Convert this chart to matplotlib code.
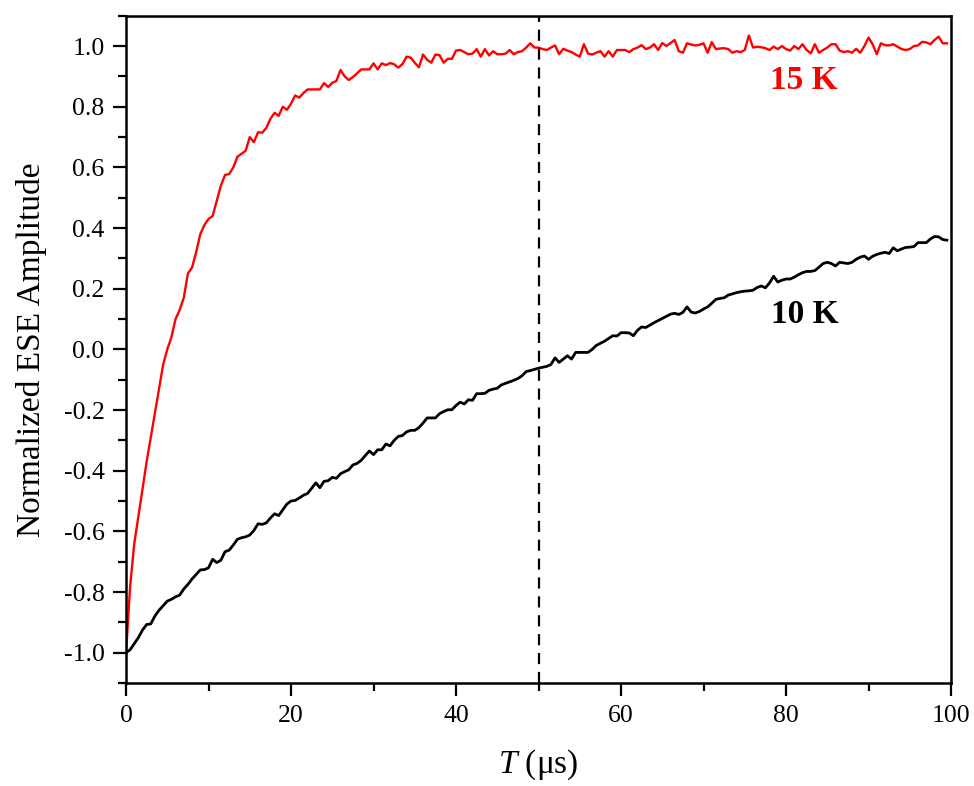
import numpy as np
import matplotlib
matplotlib.use('Agg')
import matplotlib.pyplot as plt
from matplotlib.ticker import MultipleLocator

plt.rcParams['font.family'] = 'Liberation Serif'
plt.rcParams['mathtext.fontset'] = 'custom'
plt.rcParams['mathtext.rm'] = 'Liberation Serif'
plt.rcParams['mathtext.it'] = 'Liberation Serif:italic'

# time axis, 0.5 us step
t = np.arange(0, 100, 0.5)

# 15 K echo amplitude
amp_15k = [
    -1.00, -0.78, -0.64, -0.55, -0.46, -0.37, -0.29, -0.21, -0.13, -0.05,
    0.00, 0.04, 0.10, 0.13, 0.17, 0.25, 0.27, 0.32, 0.38, 0.41,
    0.43, 0.44, 0.49, 0.54, 0.575, 0.578, 0.60, 0.635, 0.645, 0.655,
    0.70, 0.683, 0.716, 0.714, 0.73, 0.76, 0.78, 0.77, 0.80, 0.79,
    0.81, 0.837, 0.83, 0.845, 0.857, 0.857, 0.857, 0.857, 0.878, 0.865,
    0.879, 0.885, 0.921, 0.90, 0.888, 0.898, 0.91, 0.923, 0.923, 0.923,
    0.943, 0.923, 0.943, 0.937, 0.944, 0.94, 0.929, 0.94, 0.965, 0.962,
    0.945, 0.93, 0.972, 0.955, 0.945, 0.972, 0.97, 0.945, 0.958, 0.958,
    0.985, 0.987, 0.98, 0.973, 0.975, 0.99, 0.965, 0.99, 0.969, 0.983,
    0.973, 0.973, 0.975, 0.987, 0.973, 0.98, 0.983, 0.995, 1.009, 0.995,
    0.995, 0.99, 0.987, 0.995, 1.002, 0.973, 0.991, 0.985, 0.98, 0.972,
    0.965, 1.006, 0.975, 0.972, 0.978, 0.983, 0.965, 0.983, 0.965, 0.987,
    0.987, 0.987, 0.98, 0.99, 0.995, 1.003, 0.99, 0.995, 1.006, 0.987,
    1.01, 1.0, 1.01, 1.02, 0.983, 0.978, 1.009, 1.005, 1.002, 1.004,
    1.009, 0.978, 1.013, 0.99, 0.992, 0.993, 0.99, 0.978, 0.983, 0.98,
    0.987, 1.035, 0.995, 0.998, 0.996, 0.993, 0.987, 0.998, 0.99, 1.0,
    0.99, 0.985, 1.0, 0.99, 1.006, 0.987, 0.976, 1.006, 0.978, 0.987,
    0.995, 1.006, 1.006, 0.985, 0.98, 0.983, 0.978, 0.991, 0.978, 1.0,
    1.028, 1.006, 0.973, 1.009, 1.003, 1.002, 1.006, 0.998, 0.99, 0.987,
    0.99, 1.0, 1.002, 1.014, 1.012, 1.006, 1.02, 1.031, 1.009, 1.009,
]

# 10 K echo amplitude
amp_10k = [
    -1.0, -0.99, -0.97, -0.95, -0.925, -0.907, -0.905, -0.879, -0.86, -0.845,
    -0.83, -0.824, -0.816, -0.81, -0.79, -0.775, -0.757, -0.742, -0.727, -0.726,
    -0.72, -0.692, -0.703, -0.695, -0.667, -0.662, -0.645, -0.626, -0.621, -0.618,
    -0.612, -0.597, -0.575, -0.577, -0.572, -0.556, -0.542, -0.548, -0.529, -0.51,
    -0.5, -0.498, -0.49, -0.481, -0.475, -0.458, -0.44, -0.456, -0.435, -0.433,
    -0.422, -0.425, -0.41, -0.403, -0.397, -0.381, -0.376, -0.366, -0.35, -0.335,
    -0.347, -0.331, -0.331, -0.312, -0.318, -0.3, -0.287, -0.284, -0.272, -0.267,
    -0.267, -0.258, -0.243, -0.226, -0.226, -0.226, -0.212, -0.205, -0.199, -0.199,
    -0.185, -0.174, -0.18, -0.166, -0.168, -0.146, -0.146, -0.145, -0.135, -0.131,
    -0.128, -0.117, -0.112, -0.107, -0.102, -0.096, -0.087, -0.073, -0.07, -0.066,
    -0.062, -0.059, -0.056, -0.05, -0.028, -0.043, -0.032, -0.021, -0.032, -0.01,
    -0.01, -0.01, -0.01, 0.0, 0.013, 0.02, 0.027, 0.036, 0.045, 0.044,
    0.055, 0.055, 0.054, 0.045, 0.063, 0.074, 0.072, 0.08, 0.088, 0.095,
    0.102, 0.109, 0.116, 0.119, 0.115, 0.122, 0.14, 0.123, 0.12, 0.125,
    0.133, 0.14, 0.152, 0.165, 0.168, 0.17, 0.179, 0.183, 0.187, 0.19,
    0.192, 0.193, 0.195, 0.204, 0.209, 0.203, 0.219, 0.241, 0.222, 0.228,
    0.232, 0.232, 0.238, 0.246, 0.253, 0.257, 0.257, 0.26, 0.271, 0.283,
    0.287, 0.283, 0.275, 0.287, 0.285, 0.283, 0.287, 0.297, 0.304, 0.308,
    0.297, 0.307, 0.313, 0.317, 0.32, 0.316, 0.335, 0.325, 0.331, 0.336,
    0.337, 0.339, 0.352, 0.352, 0.352, 0.364, 0.372, 0.371, 0.362, 0.36,
]

fig = plt.figure(figsize=(9.74, 7.86), dpi=100)
ax = fig.add_axes([0.1294, 0.131, 0.847, 0.849])

ax.plot(t, amp_15k, color='#ff0000', lw=1.7)
ax.plot(t, amp_10k, color='black', lw=2.0)
ax.axvline(50, color='black', lw=1.6, ls=(0, (5, 3.5)))

ax.text(82.2, 0.887, '15 K', color='#ff0000', fontsize=24, fontweight='bold',
        ha='center', va='center')
ax.text(82.3, 0.114, '10 K', color='black', fontsize=24, fontweight='bold',
        ha='center', va='center')

ax.set_xlim(0, 100)
ax.set_ylim(-1.1, 1.1)
ax.xaxis.set_major_locator(MultipleLocator(20))
ax.xaxis.set_minor_locator(MultipleLocator(10))
ax.yaxis.set_major_locator(MultipleLocator(0.2))
ax.yaxis.set_minor_locator(MultipleLocator(0.1))
ax.yaxis.set_major_formatter(plt.FuncFormatter(lambda v, p: '%.1f' % v))

ax.tick_params(which='both', direction='out', top=False, right=False,
               width=1.6, labelsize=18.5, pad=6)
ax.tick_params(which='major', length=9.5)
ax.tick_params(which='minor', length=5.5)
for s in ax.spines.values():
    s.set_linewidth(1.8)

ax.set_xlabel('$T$ (μs)', fontsize=24, labelpad=15)
ax.set_ylabel('Normalized ESE Amplitude', fontsize=24, labelpad=12)

fig.savefig('out.png', dpi=100)
